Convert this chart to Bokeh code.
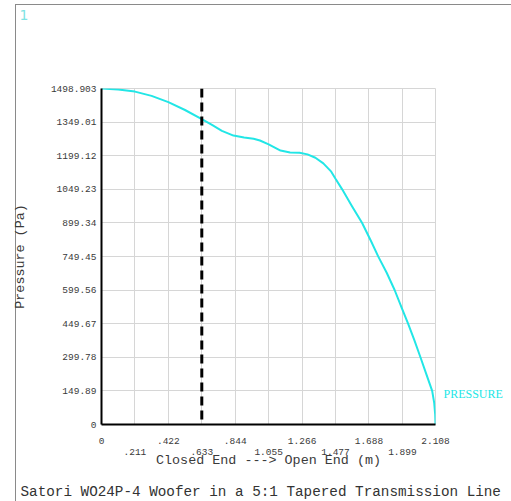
from bokeh.plotting import figure
from bokeh.models import Range1d, FixedTicker, LinearAxis, Span, Title
from bokeh.embed import file_html
from bokeh.resources import INLINE

# ---- data ----
position_m = [0.0, 0.105, 0.211, 0.316, 0.422, 0.527, 0.633, 0.700, 0.760, 0.833,
              0.900, 0.960, 1.000, 1.055, 1.130, 1.190, 1.250, 1.300, 1.350, 1.400,
              1.450, 1.477, 1.519, 1.580, 1.645, 1.700, 1.747, 1.800, 1.850, 1.898,
              1.935, 1.975, 2.013, 2.050, 2.087, 2.100, 2.106, 2.108]
pressure_pa = [1498.9, 1494, 1485, 1466, 1438, 1403, 1362, 1335, 1310, 1289,
               1280, 1275, 1267, 1250, 1222, 1213, 1212, 1205, 1190, 1165,
               1128, 1096, 1049, 975, 899, 820, 749, 677, 600, 515,
               450, 375, 300, 225, 150, 95, 45, 0]

y_tick_labels = ["0", "149.89", "299.78", "449.67", "599.56", "749.45", "899.34",
                 "1049.23", "1199.12", "1349.01", "1498.903"]
x_tick_labels_upper = ["0", ".422", ".844", "1.266", "1.688", "2.108"]
x_tick_labels_lower = [".211", ".633", "1.055", "1.477", "1.899"]
marker_position_m = 0.633
x_max = 2.108
y_max = 1498.903

series_name = "PRESSURE"
series_label_at = 134.0
x_title = "Closed End ---> Open End (m)"
y_title = "Pressure (Pa)"
footer = "Satori WO24P-4 Woofer in a 5:1 Tapered Transmission Line"
window_id = "1"

y_ticks = [float(s) for s in y_tick_labels]
x_ticks_upper = [float(s) for s in x_tick_labels_upper]
x_ticks_lower = [float(s) for s in x_tick_labels_lower]

MONO = "Liberation Mono"
TXT = "#3a3a3a"
CYAN = "#22e6e6"
GRID = "#d6d6d6"
FRAME_LINE = "#8a8a8a"

p = figure(width=511, height=501,
           x_range=Range1d(0, x_max), y_range=Range1d(0, y_max),
           output_backend="svg", toolbar_location=None, title_location=None,
           min_border_left=101, min_border_right=76,
           min_border_top=88, min_border_bottom=77,
           background_fill_color="white", border_fill_color=None)
p.outline_line_color = GRID
p.styles = {
    "background-color": "white",
    "background-image": f"linear-gradient({FRAME_LINE},{FRAME_LINE}), linear-gradient({FRAME_LINE},{FRAME_LINE})",
    "background-size": "1px 100%, 100% 1px",
    "background-position": "15px 4px, 15px 4px",
    "background-repeat": "no-repeat",
}

# ---- top: spacer then window number (outermost) ----
p.add_layout(Title(text=" ", text_font_size="1px", standoff=59), "above")
p.add_layout(Title(text=window_id, align="left", offset=-82, standoff=10,
                   vertical_align="top", text_font="DejaVu Sans", text_font_size="14px",
                   text_font_style="normal", text_color="#7fe3e3"), "above")

# grids
p.xgrid.ticker = FixedTicker(ticks=sorted(x_ticks_upper + x_ticks_lower))
p.ygrid.ticker = FixedTicker(ticks=y_ticks)
p.xgrid.grid_line_color = GRID
p.ygrid.grid_line_color = GRID

# x axis (upper row of labels)
xa = p.xaxis[0]
xa.ticker = FixedTicker(ticks=x_ticks_upper)
xa.major_label_overrides = dict(zip(x_ticks_upper, x_tick_labels_upper))
xa.axis_line_color = "black"
xa.axis_line_width = 2
xa.major_tick_out = 0
xa.major_tick_in = 0
xa.minor_tick_out = 0
xa.minor_tick_in = 0
xa.major_label_standoff = 13
xa.major_label_text_font = MONO
xa.major_label_text_font_size = "9.5px"
xa.major_label_text_color = TXT

# x axis (lower row of labels + title)
xb = LinearAxis(ticker=FixedTicker(ticks=x_ticks_lower),
                major_label_overrides=dict(zip(x_ticks_lower, x_tick_labels_lower)),
                axis_line_color=None, major_tick_line_color=None, minor_tick_line_color=None,
                major_tick_out=0, major_tick_in=0, minor_tick_out=0, minor_tick_in=0,
                major_label_standoff=2,
                major_label_text_font=MONO, major_label_text_font_size="9.5px",
                major_label_text_color=TXT,
                axis_label=x_title, axis_label_standoff=-5,
                axis_label_text_font=MONO, axis_label_text_font_size="13.4px",
                axis_label_text_font_style="normal", axis_label_text_color=TXT)
p.add_layout(xb, "below")

# ---- bottom: spacer then footer (outermost) ----
p.add_layout(Title(text=" ", text_font_size="1px", standoff=10), "below")
p.add_layout(Title(text=footer, align="left", offset=-81, standoff=0,
                   vertical_align="top",
                   text_font=MONO, text_font_size="14.3px", text_font_style="normal",
                   text_color="#333333"), "below")

# y axis
ya = p.yaxis[0]
ya.ticker = FixedTicker(ticks=y_ticks)
ya.major_label_overrides = dict(zip(y_ticks, y_tick_labels))
ya.axis_line_color = "black"
ya.axis_line_width = 2
ya.major_tick_out = 0
ya.major_tick_in = 0
ya.minor_tick_out = 0
ya.minor_tick_in = 0
ya.major_label_standoff = 5
ya.major_label_text_font = MONO
ya.major_label_text_font_size = "9.5px"
ya.major_label_text_color = TXT
ya.axis_label = y_title
ya.axis_label_standoff = 20
ya.axis_label_text_font = MONO
ya.axis_label_text_font_size = "13.4px"
ya.axis_label_text_font_style = "normal"
ya.axis_label_text_color = TXT

# series name at the right of the plot, next to the curve's end
yr = LinearAxis(ticker=FixedTicker(ticks=[series_label_at]),
                major_label_overrides={series_label_at: series_name},
                axis_line_color=None, major_tick_line_color=None, minor_tick_line_color=None,
                major_tick_out=0, major_tick_in=0, minor_tick_out=0, minor_tick_in=0,
                major_label_standoff=8,
                major_label_text_font="Liberation Serif", major_label_text_font_size="12px",
                major_label_text_color=CYAN)
p.add_layout(yr, "right")

# curve
p.line(position_m, pressure_pa, line_color=CYAN, line_width=2, line_join="round")

# dashed marker
p.add_layout(Span(location=marker_position_m, dimension="height",
                  line_color="black", line_width=3, line_dash="9 5"))

open("out.html", "w").write(file_html(p, INLINE))
